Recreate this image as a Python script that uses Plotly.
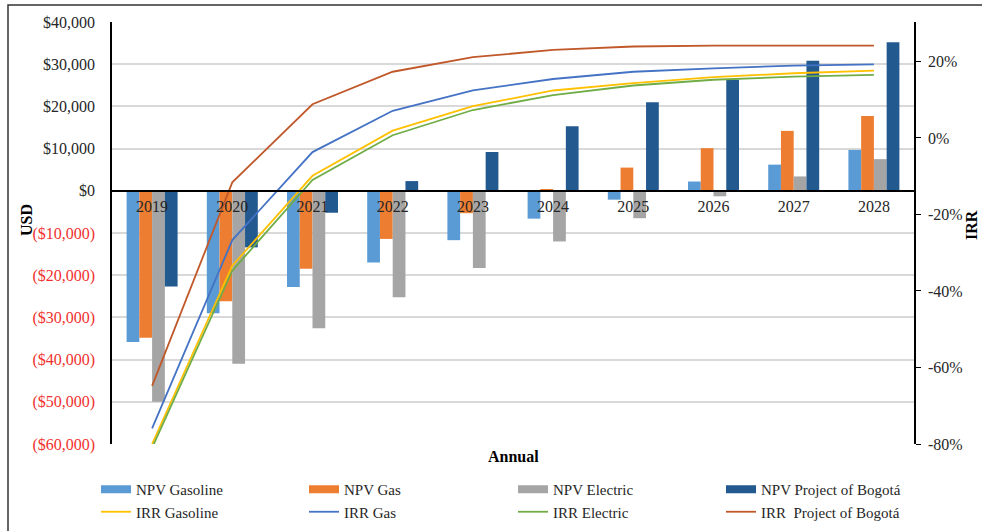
import plotly.graph_objects as go

years = ["2019", "2020", "2021", "2022", "2023", "2024", "2025", "2026", "2027", "2028"]

npv_gasoline = [-35800, -29000, -22800, -17000, -11700, -6600, -2100, 2200, 6200, 9700]
npv_gas = [-34800, -26200, -18500, -11400, -5300, 400, 5500, 10100, 14200, 17700]
npv_electric = [-50000, -41000, -32600, -25200, -18300, -12000, -6500, -1300, 3400, 7500]
npv_bogota = [-22700, -13400, -5200, 2300, 9200, 15300, 21000, 26300, 30800, 35200]

irr_gasoline = [-0.80, -0.334, -0.099, 0.019, 0.083, 0.124, 0.143, 0.159, 0.169, 0.176]
irr_gas = [-0.759, -0.267, -0.037, 0.071, 0.124, 0.154, 0.173, 0.182, 0.189, 0.192]
irr_electric = [-0.81, -0.347, -0.110, 0.007, 0.073, 0.112, 0.137, 0.152, 0.160, 0.165]
irr_bogota = [-0.648, -0.116, 0.088, 0.173, 0.211, 0.230, 0.239, 0.241, 0.241, 0.241]

usd_ticks = [40000, 30000, 20000, 10000, 0, -10000, -20000, -30000, -40000, -50000, -60000]
irr_ticks = [0.2, 0, -0.2, -0.4, -0.6, -0.8]

def usd_label(v):
    if v < 0:
        return "<span style='color:#F0302E'>($" + f"{-v:,}" + ")</span>"
    return "$" + f"{v:,}"

def irr_label(v):
    return f"{round(v * 100)}%"

FONT = "Liberation Serif, Times New Roman, serif"

fig = go.Figure()
bar_specs = [
    ("NPV Gasoline", npv_gasoline, "#5B9BD5"),
    ("NPV Gas", npv_gas, "#ED7D31"),
    ("NPV Electric", npv_electric, "#A5A5A5"),
    ("NPV Project of Bogotá", npv_bogota, "#22598F"),
]
line_specs = [
    ("IRR Gasoline", irr_gasoline, "#FFC000"),
    ("IRR Gas", irr_gas, "#4472C4"),
    ("IRR Electric", irr_electric, "#70AD47"),
    ("IRR  Project of Bogotá", irr_bogota, "#C0582A"),
]
legend_ids = ["legend", "legend2", "legend3", "legend4"]
legend_x_px = [96, 304, 513, 721]

# legend-only entries with wide rectangular swatches for the bar series
for i, (name, vals, col) in enumerate(bar_specs):
    fig.add_trace(go.Scatter(x=[None], y=[None], name=name, mode="lines",
                             line=dict(color=col, width=8), legendgroup=name,
                             legend=legend_ids[i], legendrank=1, hoverinfo="skip"))

for i, (name, vals, col) in enumerate(bar_specs):
    fig.add_trace(go.Bar(x=years, y=vals, name=name, marker=dict(color=col, line=dict(width=0)),
                         yaxis="y", showlegend=False, legendgroup=name))

for i, (name, vals, col) in enumerate(line_specs):
    fig.add_trace(go.Scatter(x=years, y=vals, name=name, mode="lines",
                             line=dict(color=col, width=1.8), yaxis="y2",
                             legend=legend_ids[i], legendrank=2))

legend_style = dict(orientation="v", xanchor="left", yref="container", xref="container",
                    y=1 - 473 / 531, yanchor="top", itemwidth=30,
                    font=dict(family=FONT, size=15, color="#262626"),
                    traceorder="normal", tracegroupgap=0, bgcolor="rgba(0,0,0,0)")
legend_layout = {}
for lid, px in zip(legend_ids, legend_x_px):
    legend_layout[lid] = dict(legend_style, x=px / 982)

fig.update_layout(
    width=982, height=531,
    margin=dict(l=112, r=68, t=22, b=87, autoexpand=False),
    paper_bgcolor="white", plot_bgcolor="white",
    font=dict(family=FONT, size=15, color="#262626"),
    barmode="group", bargap=0.364, bargroupgap=0,
    showlegend=True,
    **legend_layout,
    xaxis=dict(type="category", anchor="free", position=0.6, showline=True,
               linecolor="black", linewidth=1.5, ticks="", showgrid=False,
               tickfont=dict(family=FONT, size=16, color="#262626"),
               ticklabelstandoff=1),
    yaxis=dict(range=[-60000, 40000], tickvals=usd_ticks,
               ticktext=[usd_label(v) for v in usd_ticks],
               showgrid=True, gridcolor="#D9D9D9", gridwidth=1.5,
               showline=True, linecolor="black", linewidth=1.5,
               zeroline=False, ticks="", ticklabelstandoff=12,
               tickfont=dict(family=FONT, size=16, color="#262626")),
    yaxis2=dict(range=[-0.8, 0.303], overlaying="y", side="right",
                tickvals=irr_ticks, ticktext=[irr_label(v) for v in irr_ticks],
                showgrid=False, zeroline=False,
                showline=True, linecolor="black", linewidth=1.5,
                ticks="outside", ticklen=5, tickcolor="black", tickwidth=1.2,
                ticklabelstandoff=4,
                tickfont=dict(family=FONT, size=16, color="#262626")),
    annotations=[
        dict(text="<b>Annual</b>", xref="paper", yref="paper", x=0.5, y=(444 - 457) / 422,
             showarrow=False, font=dict(family=FONT, size=16, color="black"),
             xanchor="center", yanchor="middle"),
        dict(text="<b>USD</b>", xref="paper", yref="paper", x=(27 - 112) / 802,
             y=(444 - 220) / 422, showarrow=False, textangle=-90,
             font=dict(family=FONT, size=16, color="black"),
             xanchor="center", yanchor="middle"),
        dict(text="<b>IRR</b>", xref="paper", yref="paper", x=(971 - 112) / 802,
             y=(444 - 225) / 422, showarrow=False, textangle=-90,
             font=dict(family=FONT, size=16, color="black"),
             xanchor="center", yanchor="middle"),
    ],
    shapes=[
        dict(type="rect", xref="paper", yref="paper",
             x0=(8 - 112) / 802, x1=(995 - 112) / 802,
             y0=(444 - 545) / 422, y1=(444 - 5) / 422,
             line=dict(color="#333333", width=1.5), layer="below"),
    ],
)

fig.write_html("out.html", config={"displayModeBar": False},
               post_script="document.body.style.margin='0';document.body.style.overflow='hidden';")
